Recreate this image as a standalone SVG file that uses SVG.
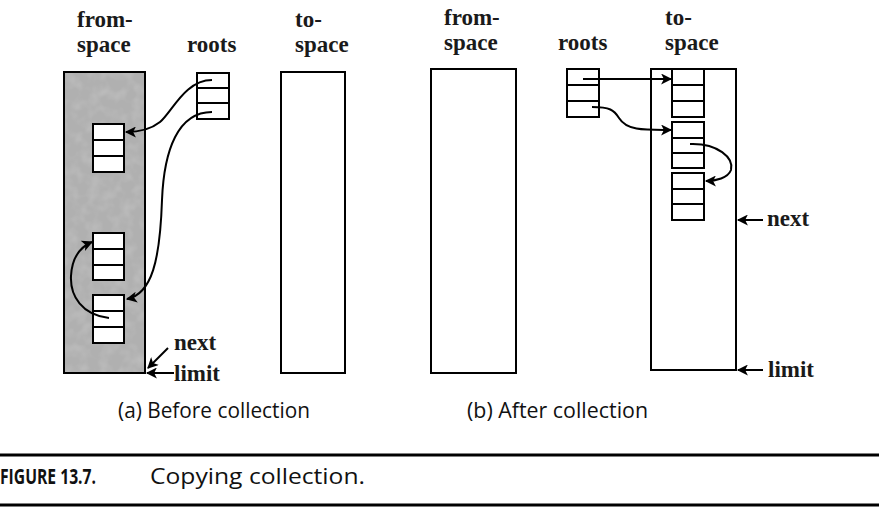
<svg xmlns="http://www.w3.org/2000/svg" width="879" height="511" viewBox="0 0 879 511">
<defs>
<marker id="ah" viewBox="0 0 10 10" refX="9" refY="5" markerWidth="13" markerHeight="11" markerUnits="userSpaceOnUse" orient="auto">
<path d="M0,0 L10,5 L0,10 L2.5,5 Z" fill="#000"/>
</marker>
<filter id="mottle" x="0" y="0" width="1" height="1">
<feTurbulence type="fractalNoise" baseFrequency="0.09" numOctaves="2" seed="5" result="n"/>
<feColorMatrix in="n" type="matrix" values="0 0 0 0 1  0 0 0 0 1  0 0 0 0 1  0.9 0 0 0 -0.35" result="c"/>
<feComposite in="c" in2="SourceGraphic" operator="in"/>
</filter>
</defs>
<style>
.lbl{font-family:"Liberation Serif","Times New Roman",serif;font-size:23px;font-weight:bold;fill:#1a1a1a}
.cap{font-family:"Open Sans","Liberation Sans",sans-serif;font-size:21px;fill:#111}
.space{fill:#fff;stroke:#000;stroke-width:2}
.cell{fill:#fff;stroke:#000;stroke-width:2}
.conn{fill:none;stroke:#000;stroke-width:2}
.rule{stroke:#000;stroke-width:3}
</style>
<rect width="879" height="511" fill="#fff"/>

<g id="a-fromspace">
<rect x="64" y="72" width="81" height="301" fill="#b0b0b0" stroke="#000" stroke-width="2"/>
<rect x="65" y="73" width="79" height="299" fill="#fff" filter="url(#mottle)" opacity="0.35"/>
<text class="lbl" x="77" y="27">from-</text>
<text class="lbl" x="77" y="52">space</text>
</g>
<g id="a-roots">
<rect class="cell" x="197" y="73" width="32" height="15"/>
<rect class="cell" x="197" y="88" width="32" height="15"/>
<rect class="cell" x="197" y="103" width="32" height="16"/>
<text class="lbl" x="187" y="52">roots</text>
</g>
<g id="a-tospace">
<rect class="space" x="281" y="72" width="64" height="301"/>
<text class="lbl" x="295" y="27">to-</text>
<text class="lbl" x="295" y="52">space</text>
</g>
<g id="a-obj1">
<rect class="cell" x="93" y="124" width="31" height="16"/>
<rect class="cell" x="93" y="140" width="31" height="16"/>
<rect class="cell" x="93" y="156" width="31" height="16"/>
</g>
<g id="a-obj2">
<rect class="cell" x="93" y="233" width="31" height="16"/>
<rect class="cell" x="93" y="249" width="31" height="16"/>
<rect class="cell" x="93" y="265" width="31" height="15"/>
</g>
<g id="a-obj3">
<rect class="cell" x="93" y="295" width="31" height="16"/>
<rect class="cell" x="93" y="311" width="31" height="16"/>
<rect class="cell" x="93" y="327" width="31" height="16"/>
</g>
<g id="a-pointers">
<text class="lbl" x="174" y="350">next</text>
<text class="lbl" x="174" y="381">limit</text>
</g>

<g id="b-fromspace">
<rect class="space" x="431" y="69" width="85" height="304"/>
<text class="lbl" x="444" y="25">from-</text>
<text class="lbl" x="444" y="50">space</text>
</g>
<g id="b-roots">
<rect class="cell" x="567" y="69" width="32" height="16"/>
<rect class="cell" x="567" y="85" width="32" height="16"/>
<rect class="cell" x="567" y="101" width="32" height="16"/>
<text class="lbl" x="558" y="50">roots</text>
</g>
<g id="b-tospace">
<rect class="space" x="651" y="69" width="85" height="301"/>
<text class="lbl" x="665" y="25">to-</text>
<text class="lbl" x="665" y="50">space</text>
</g>
<g id="b-objA">
<rect class="cell" x="672" y="69" width="32" height="16"/>
<rect class="cell" x="672" y="85" width="32" height="16"/>
<rect class="cell" x="672" y="101" width="32" height="16"/>
</g>
<g id="b-objB">
<rect class="cell" x="672" y="122" width="32" height="16"/>
<rect class="cell" x="672" y="138" width="32" height="15"/>
<rect class="cell" x="672" y="153" width="32" height="15"/>
</g>
<g id="b-objC">
<rect class="cell" x="672" y="173" width="32" height="16"/>
<rect class="cell" x="672" y="189" width="32" height="15"/>
<rect class="cell" x="672" y="204" width="32" height="16"/>
</g>
<g id="b-pointers">
<text class="lbl" x="767" y="226">next</text>
<text class="lbl" x="768" y="377">limit</text>
</g>

<g id="connectors">
<path class="conn" marker-end="url(#ah)" d="M212,80 C185,80 172,112 160,122 C150,130 138,132 126,132"/>
<path class="conn" marker-end="url(#ah)" d="M212,112 C178,112 164,150 162,200 C160,260 152,294 127,299"/>
<path class="conn" marker-end="url(#ah)" d="M109,318 C82,315 70,296 71,276 C72,258 80,247 92,242"/>
<path class="conn" marker-end="url(#ah)" d="M168,348 L148,368"/>
<path class="conn" marker-end="url(#ah)" d="M174,373 L147,373"/>
<path class="conn" marker-end="url(#ah)" d="M583,79 L671,79"/>
<path class="conn" marker-end="url(#ah)" d="M592,107 C610,107 614,110 619,118 C627,131 645,130 671,130"/>
<path class="conn" marker-end="url(#ah)" d="M690,144 C718,143 734,158 731,170 C728,178 716,181 706,181"/>
<path class="conn" marker-end="url(#ah)" d="M763,220 L738,220"/>
<path class="conn" marker-end="url(#ah)" d="M763,370 L738,370"/>
</g>

<g id="captions">
<text class="cap" x="118" y="418" textLength="192" lengthAdjust="spacingAndGlyphs">(a) Before collection</text>
<text class="cap" x="467" y="418" textLength="181" lengthAdjust="spacingAndGlyphs">(b) After collection</text>
<line class="rule" x1="0" y1="455" x2="879" y2="455"/>
<text class="cap" x="0" y="484" font-size="20" font-weight="bold" textLength="96" lengthAdjust="spacingAndGlyphs">FIGURE 13.7.</text>
<text class="cap" x="150" y="484" textLength="215" lengthAdjust="spacingAndGlyphs">Copying collection.</text>
<line class="rule" x1="0" y1="505" x2="879" y2="505"/>
</g>
</svg>
